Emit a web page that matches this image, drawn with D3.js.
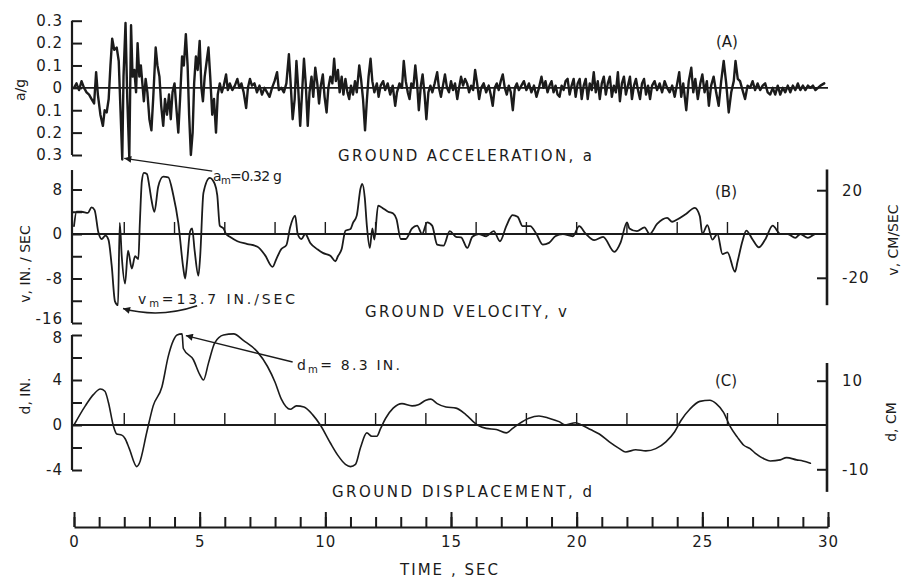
<!DOCTYPE html>
<html><head><meta charset="utf-8">
<script src="https://cdn.jsdelivr.net/npm/d3@7"></script>
<style>body{margin:0;background:#fff}</style>
</head><body><svg id="c" width="901" height="578"></svg>
<script>
// ---------- DATA ----------
const timeTicks = [0, 5, 10, 15, 20, 25, 30];
const accTicks = [-0.3, -0.2, -0.1, 0, 0.1, 0.2, 0.3];
const velTicks = [-16, -12, -8, -4, 0, 4, 8];
const velLabels = [-16, -8, 0, 8];
const velCmTicks = [-20, 20];
const dispTicks = [-4, -2, 0, 2, 4, 6, 8];
const dispLabels = [-4, 0, 4, 8];
const dispCmTicks = [-10, 10];

const accTime = [0.00,0.10,0.20,0.30,0.40,0.50,0.60,0.70,0.80,0.88,0.95,1.05,1.15,1.22,1.30,1.38,1.45,1.52,1.60,1.70,1.78,1.85,1.92,1.97,2.05,2.12,2.20,2.27,2.33,2.40,2.47,2.53,2.60,2.66,2.72,2.78,2.85,2.92,3.00,3.08,3.15,3.25,3.32,3.40,3.47,3.55,3.62,3.70,3.78,3.85,3.92,4.00,4.08,4.15,4.22,4.30,4.37,4.45,4.52,4.58,4.65,4.72,4.78,4.85,4.92,5.00,5.07,5.13,5.20,5.28,5.35,5.42,5.50,5.57,5.65,5.72,5.80,5.88,5.96,6.05,6.12,6.20,6.30,6.40,6.50,6.58,6.66,6.75,6.85,6.92,7.00,7.08,7.18,7.28,7.38,7.48,7.58,7.68,7.78,7.88,7.98,8.08,8.15,8.25,8.35,8.45,8.55,8.62,8.70,8.78,8.85,8.92,9.00,9.07,9.15,9.22,9.30,9.37,9.45,9.52,9.60,9.68,9.75,9.82,9.90,9.97,10.05,10.12,10.20,10.28,10.35,10.42,10.50,10.57,10.65,10.72,10.80,10.88,10.95,11.02,11.10,11.18,11.25,11.35,11.42,11.50,11.58,11.65,11.72,11.80,11.87,11.95,12.05,12.12,12.20,12.30,12.38,12.48,12.58,12.68,12.78,12.85,12.95,13.05,13.12,13.20,13.28,13.35,13.42,13.50,13.58,13.65,13.72,13.80,13.87,13.95,14.02,14.10,14.18,14.26,14.35,14.45,14.52,14.60,14.68,14.76,14.84,14.92,15.00,15.08,15.16,15.25,15.32,15.40,15.48,15.56,15.64,15.72,15.80,15.88,15.96,16.04,16.12,16.20,16.30,16.40,16.50,16.58,16.66,16.74,16.82,16.90,16.98,17.06,17.14,17.22,17.30,17.38,17.46,17.54,17.62,17.70,17.80,17.90,18.00,18.10,18.20,18.30,18.40,18.50,18.60,18.68,18.76,18.84,18.92,19.00,19.08,19.16,19.24,19.32,19.40,19.48,19.56,19.64,19.72,19.80,19.88,19.96,20.04,20.12,20.20,20.28,20.36,20.44,20.52,20.60,20.68,20.76,20.84,20.92,21.00,21.08,21.16,21.24,21.32,21.40,21.48,21.56,21.64,21.72,21.80,21.88,21.96,22.04,22.12,22.20,22.28,22.36,22.44,22.52,22.60,22.68,22.76,22.84,22.92,23.00,23.10,23.20,23.30,23.40,23.50,23.60,23.70,23.80,23.90,24.00,24.08,24.16,24.24,24.36,24.46,24.56,24.64,24.72,24.82,24.92,25.00,25.09,25.18,25.26,25.35,25.45,25.55,25.65,25.75,25.85,25.95,26.05,26.15,26.25,26.32,26.41,26.50,26.60,26.70,26.80,26.90,27.00,27.10,27.20,27.30,27.40,27.50,27.60,27.70,27.80,27.90,28.00,28.10,28.20,28.30,28.40,28.50,28.60,28.70,28.80,28.90,29.00,29.10,29.20,29.30,29.40,29.50,29.60,29.70,29.85,29.95];
const accValue = [0.00,0.02,-0.01,0.03,0.00,-0.02,-0.03,-0.05,-0.07,0.07,-0.03,-0.12,-0.17,-0.10,-0.11,-0.05,0.10,0.22,0.17,0.18,0.12,-0.10,-0.32,0.05,0.29,-0.05,-0.31,0.28,0.05,0.08,-0.02,0.20,0.05,0.10,0.02,-0.06,0.04,-0.02,-0.14,-0.19,-0.05,0.18,0.10,0.05,-0.08,-0.17,-0.05,-0.12,-0.03,-0.14,-0.02,0.02,-0.10,-0.20,-0.05,0.14,0.10,0.24,0.10,-0.12,-0.30,-0.20,0.02,0.14,0.08,0.21,0.00,-0.06,0.05,0.12,0.18,0.05,-0.12,-0.05,-0.20,-0.03,0.02,-0.02,0.01,0.06,-0.01,0.02,-0.01,0.01,0.04,0.00,0.02,-0.02,-0.09,0.00,0.04,0.01,0.02,-0.02,0.01,-0.03,0.00,-0.02,-0.04,0.00,0.03,0.07,-0.01,0.00,-0.02,0.02,0.15,0.02,-0.14,-0.05,0.12,0.00,-0.17,-0.03,0.13,0.02,-0.17,-0.02,0.05,-0.04,0.09,0.02,-0.07,0.01,0.06,-0.04,-0.11,0.00,0.05,0.02,0.13,0.03,0.08,-0.02,0.05,-0.03,0.04,-0.02,-0.05,0.01,-0.03,0.03,-0.02,0.10,0.04,-0.05,-0.19,-0.06,0.05,0.13,0.03,-0.02,0.02,-0.04,0.01,0.03,-0.01,0.02,-0.03,0.01,-0.08,-0.02,0.02,0.00,0.12,0.03,-0.02,-0.05,0.02,0.00,0.10,0.02,-0.10,0.01,0.06,-0.03,-0.14,-0.02,0.01,-0.02,0.02,0.07,0.00,-0.04,0.01,0.06,0.00,-0.02,0.03,-0.01,0.02,-0.05,0.00,0.05,0.01,0.04,0.02,-0.02,0.01,-0.01,0.08,0.02,-0.05,0.00,0.02,-0.02,0.01,-0.03,-0.08,0.00,0.02,-0.01,0.03,0.06,0.00,-0.03,0.01,-0.02,-0.10,0.00,0.02,-0.01,0.01,0.03,-0.01,0.02,-0.02,0.01,-0.04,0.00,0.05,0.00,0.03,-0.02,0.01,0.03,-0.02,0.01,-0.03,-0.04,0.01,-0.01,0.03,0.04,-0.03,0.01,0.04,-0.04,0.02,0.04,-0.05,0.01,0.04,-0.05,0.02,-0.01,0.07,-0.02,0.03,-0.05,0.02,0.05,-0.03,0.02,0.05,-0.04,0.01,-0.02,0.07,-0.06,0.02,0.05,-0.03,0.01,0.05,-0.05,0.01,0.04,-0.01,-0.05,0.02,0.04,-0.03,0.01,-0.05,0.01,0.03,-0.01,0.02,-0.02,0.03,0.00,-0.02,0.01,-0.04,0.02,0.07,-0.04,0.02,-0.10,0.03,0.09,-0.02,0.04,-0.05,0.02,0.06,-0.02,0.03,-0.08,0.01,0.05,-0.02,-0.08,0.03,0.12,0.02,-0.11,-0.02,0.03,0.12,0.04,0.03,-0.01,-0.05,0.01,0.00,0.03,-0.01,0.02,-0.01,0.01,0.02,-0.02,-0.03,0.00,-0.03,0.01,-0.03,0.00,-0.02,0.01,-0.02,0.01,-0.01,0.02,-0.01,0.01,-0.01,0.01,0.00,0.01,-0.01,0.00,0.01,0.02];

const velTime = [0.00,0.10,0.30,0.55,0.70,0.82,0.97,1.10,1.25,1.37,1.50,1.63,1.75,1.82,1.90,2.03,2.15,2.30,2.43,2.56,2.62,2.70,2.78,2.90,3.00,3.08,3.20,3.35,3.55,3.75,3.95,4.15,4.35,4.42,4.50,4.62,4.70,4.80,4.95,5.02,5.15,5.40,5.60,5.70,5.80,5.95,6.05,6.20,6.50,6.90,7.30,7.60,7.90,8.05,8.25,8.45,8.60,8.80,8.90,9.05,9.20,9.40,9.70,9.90,10.20,10.40,10.50,10.65,10.80,11.00,11.10,11.25,11.40,11.47,11.57,11.65,11.77,11.87,11.95,12.10,12.30,12.50,12.70,12.83,13.00,13.20,13.45,13.65,13.85,14.05,14.25,14.45,14.70,14.95,15.20,15.40,15.65,15.85,16.10,16.40,16.70,16.95,17.20,17.45,17.65,17.85,18.15,18.40,18.65,18.90,19.15,19.45,19.85,20.10,20.35,20.70,21.05,21.50,21.75,22.00,22.10,22.40,22.70,22.90,23.20,23.60,23.80,24.00,24.35,24.70,24.90,25.00,25.20,25.40,25.60,25.80,26.00,26.30,26.40,26.60,26.75,27.00,27.25,27.50,27.80,28.10,28.40,28.70,28.90,29.20,29.50,29.80];
const velValue = [1.4,4.0,4.0,3.8,4.8,4.3,0.3,-0.9,-0.3,-1.0,-5.7,-12.1,-12.8,2.0,-4.0,-8.9,-3.0,-6.2,-4.0,-4.5,2.0,9.5,11.0,10.8,8.5,6.2,4.0,8.5,10.3,10.2,7.0,2.0,-6.2,-8.0,-5.0,0.5,1.0,-3.0,-7.5,-4.0,7.4,10.1,9.0,7.0,1.5,1.0,0.0,-0.5,-1.3,-1.8,-2.3,-3.8,-5.9,-4.5,-2.7,-2.0,1.2,3.3,0.0,-0.9,0.0,-1.6,-2.8,-3.4,-3.9,-4.9,-4.0,-2.7,0.6,0.9,2.0,3.3,8.2,9.0,6.5,1.6,-2.5,1.0,-1.0,5.1,4.6,4.0,3.7,2.7,-0.9,-0.9,1.0,1.5,0.0,2.1,1.5,-1.9,-2.1,0.5,-0.5,-0.6,-2.5,-0.5,0.0,-0.4,0.5,-1.3,1.4,3.4,3.1,1.4,1.4,0.0,-1.9,-1.6,-0.4,0.0,-0.4,1.4,0.1,-1.1,-0.5,-3.2,-1.5,2.1,1.0,0.5,1.2,0.0,1.8,2.9,2.2,2.6,3.6,4.7,3.2,0.0,1.6,-1.0,0.0,-3.6,-3.3,-6.8,-5.0,-1.2,0.6,-1.0,-2.4,-1.0,1.5,0.0,0.0,-0.7,0.0,-0.7,0.0,0.0];

const dispTime = [0.00,0.45,0.77,1.05,1.23,1.37,1.57,1.70,1.90,2.03,2.20,2.50,2.60,2.90,3.15,3.50,3.75,3.95,4.10,4.30,4.35,4.75,5.00,5.15,5.35,5.60,5.95,6.35,6.75,7.30,7.70,8.00,8.25,8.60,8.85,9.15,9.50,9.80,10.20,10.50,10.80,11.00,11.20,11.40,11.65,11.85,12.05,12.20,12.40,12.70,13.05,13.45,13.70,14.00,14.20,14.45,14.80,15.20,15.60,16.05,16.40,16.80,17.20,17.45,17.70,18.10,18.50,18.90,19.30,19.55,19.95,20.20,20.55,20.90,21.30,21.70,21.95,22.35,22.75,23.15,23.55,23.90,24.15,24.50,24.90,25.30,25.55,25.85,26.10,26.40,26.65,26.90,27.10,27.45,27.70,28.10,28.35,28.75,29.00,29.30];
const dispValue = [0.0,1.7,2.7,3.2,3.0,2.0,-0.1,-0.8,-0.9,-1.2,-2.1,-3.7,-3.4,-0.6,1.7,3.4,6.1,7.5,8.0,8.1,6.8,5.8,4.5,4.0,5.5,7.3,8.0,8.1,7.5,6.5,5.2,3.8,2.3,1.4,1.7,1.6,0.9,0.0,-1.6,-2.7,-3.5,-3.7,-3.5,-2.0,-0.7,-1.0,-1.0,-0.3,0.6,1.5,1.9,1.7,1.8,2.2,2.3,1.9,1.6,1.5,0.9,0.0,-0.3,-0.4,-0.7,-0.3,0.1,0.6,0.8,0.6,0.3,0.0,0.2,0.0,-0.4,-0.8,-1.5,-2.1,-2.4,-2.2,-2.3,-2.1,-1.5,-0.6,0.4,1.4,2.1,2.2,1.9,1.1,-0.1,-1.1,-1.8,-2.1,-2.5,-3.0,-3.2,-3.1,-2.9,-3.1,-3.2,-3.4];

// ---------- CHART ----------
const ink = "#1b1b1b";
const FONT = "'DejaVu Sans', Verdana, sans-serif";
const svg = d3.select("#c");
svg.append("rect").attr("width", 901).attr("height", 578).attr("fill", "#fff");

const x = d3.scaleLinear().domain([0, 30]).range([74, 828]);
const yA = d3.scaleLinear().domain([-0.3, 0.3]).range([155, 20.7]);
const yB = d3.scaleLinear().domain([-16, 8]).range([323, 189.5]);
const yBcm = d3.scaleLinear().domain([-16 * 2.54, 8 * 2.54]).range([323, 189.5]);
const yC = d3.scaleLinear().domain([-4, 8]).range([470, 335]);
const yCcm = d3.scaleLinear().domain([-4 * 2.54, 8 * 2.54]).range([470, 335]);
const leftX = x(0) - 2, rightX = x(30) - 1;

svg.append("defs").append("marker")
  .attr("id", "arr").attr("viewBox", "0 0 10 10").attr("refX", 10).attr("refY", 5)
  .attr("markerWidth", 11).attr("markerHeight", 7).attr("markerUnits", "userSpaceOnUse")
  .attr("orient", "auto")
  .append("path").attr("d", "M0,0L10,5L0,10z").attr("fill", ink);

function styleAxis(g, size) {
  g.attr("font-family", FONT).attr("font-size", size);
  g.selectAll(".tick line").attr("stroke", ink).attr("stroke-width", 2);
  g.selectAll(".tick text").attr("fill", ink).attr("letter-spacing", 1);
}
function vline(xp, y1, y2, w) {
  svg.append("line").attr("x1", xp).attr("x2", xp).attr("y1", y1).attr("y2", y2)
    .attr("stroke", ink).attr("stroke-width", w || 2.2);
}
function leftAxis(scale, ticks, labels, fmt, top, bottom) {
  const g = svg.append("g").attr("transform", `translate(${leftX},0)`)
    .call(d3.axisLeft(scale).tickValues(ticks).tickSize(-10).tickSizeOuter(0).tickPadding(9)
      .tickFormat(d => labels.includes(d) ? fmt(d) : ""));
  g.select(".domain").remove();
  styleAxis(g, 15);
  vline(leftX, scale(top), scale(bottom));
  return g;
}
function rightAxis(scale, ticks, top, bottom) {
  const g = svg.append("g").attr("transform", `translate(${rightX},0)`)
    .call(d3.axisRight(scale).tickValues(ticks).tickSize(-10).tickSizeOuter(0).tickPadding(15)
      .tickFormat(d => d));
  g.select(".domain").remove();
  styleAxis(g, 15);
  vline(rightX, scale(top), scale(bottom), 2.6);
}
function zeroLine(scale, ticks) {
  svg.append("line").attr("x1", leftX).attr("x2", x(30)).attr("y1", scale(0)).attr("y2", scale(0))
    .attr("stroke", ink).attr("stroke-width", 1.8);
  if (ticks) svg.append("g").selectAll("line").data(ticks).join("line")
    .attr("x1", d => x(d)).attr("x2", d => x(d)).attr("y1", scale(0)).attr("y2", scale(0) - 12)
    .attr("stroke", ink).attr("stroke-width", 1.4);
}
function trace(ts, vs, scale, w, curve) {
  const pts = ts.map((t, i) => [t, vs[i]]);
  svg.append("path").datum(pts)
    .attr("d", d3.line().x(d => x(d[0])).y(d => scale(d[1])).curve(curve))
    .attr("fill", "none").attr("stroke", ink).attr("stroke-width", w)
    .attr("stroke-linejoin", "round").attr("stroke-linecap", "round");
}
function label(txt, xp, yp, size, opts) {
  const t = svg.append("text").attr("x", xp).attr("y", yp).attr("font-family", FONT)
    .attr("font-size", size).attr("fill", ink).text(txt);
  if (opts && opts.len) t.attr("textLength", opts.len).attr("lengthAdjust", "spacing");
  if (opts && opts.anchor) t.attr("text-anchor", opts.anchor);
  if (opts && opts.rot) t.attr("transform", `rotate(-90,${xp},${yp})`).attr("text-anchor", "middle");
  return t;
}
function subLabel(main, sub, rest, xp, yp, size, len) {
  const t = svg.append("text").attr("x", xp).attr("y", yp).attr("font-family", FONT)
    .attr("font-size", size).attr("fill", ink);
  t.append("tspan").text(main);
  t.append("tspan").attr("font-size", size * 0.72).attr("dy", 3).text(sub);
  t.append("tspan").attr("dy", -3).text(rest);
  if (len) t.attr("textLength", len).attr("lengthAdjust", "spacing");
}
const twoSec = d3.range(2, 30, 2);

// Panel A
zeroLine(yA, null);
trace(accTime, accValue, yA, 2.4, d3.curveLinear);
leftAxis(yA, accTicks, accTicks, d => d === 0 ? "0" : Math.abs(d).toFixed(1), 0.3, -0.3);
label("a/g", 25, 90, 14, {rot: true});
label("(A)", 716, 47, 15);
label("GROUND ACCELERATION, a", 338, 161, 15, {len: 254});
subLabel("a", "m", "=0.32 g", 213, 181, 14, 69);
svg.append("path").attr("d", d3.line()([[x(5.5), yA(-0.372)], [x(2.0), yA(-0.315)]]))
  .attr("stroke", ink).attr("stroke-width", 1.4).attr("fill", "none").attr("marker-end", "url(#arr)");

// Panel B
zeroLine(yB, twoSec);
trace(velTime, velValue, yB, 1.8, d3.curveMonotoneX);
const gB = leftAxis(yB, velTicks, velLabels, d => d, 11.5, -16);
gB.selectAll(".tick text").filter(d => d === -16).attr("dy", "0.05em");
rightAxis(yBcm, velCmTicks, 11.6 * 2.54, -12.8 * 2.54);
label("v, IN. / SEC", 30, 264, 14, {rot: true});
label("v, CM/SEC", 898, 240, 14, {rot: true});
label("(B)", 715, 197, 15);
label("GROUND VELOCITY, v", 365, 317, 15, {len: 202});
subLabel("v", "m", "=13.7 IN./SEC", 138, 304, 14, 157);
svg.append("path")
  .attr("d", `M${x(4.9)},${yB(-12.9)} Q${x(3.4)},${yB(-15.2)} ${x(1.95)},${yB(-13.4)}`)
  .attr("stroke", ink).attr("stroke-width", 1.4).attr("fill", "none").attr("marker-end", "url(#arr)");

// Panel C
zeroLine(yC, twoSec);
trace(dispTime, dispValue, yC, 1.6, d3.curveMonotoneX);
const gC = leftAxis(yC, dispTicks, dispLabels, d => d, 8, -4);
gC.selectAll(".tick text").filter(d => d === 8).attr("dy", "0.5em");
rightAxis(yCcm, dispCmTicks, 14, -15.1);
label("d, IN.", 30, 396, 14, {rot: true});
label("d, CM", 896, 422, 14, {rot: true});
label("(C)", 715, 386, 15);
label("GROUND DISPLACEMENT, d", 332, 497, 15, {len: 260});
subLabel("d", "m", "= 8.3 IN.", 297, 370, 14, 103);
svg.append("path").attr("d", d3.line()([[x(8.7), yC(5.6)], [x(4.45), yC(7.95)]]))
  .attr("stroke", ink).attr("stroke-width", 1.4).attr("fill", "none").attr("marker-end", "url(#arr)");

// Time axis
const tAxisY = 527;
const gm = svg.append("g").attr("transform", `translate(0,${tAxisY})`)
  .call(d3.axisBottom(x).tickValues(d3.range(0, 31, 1)).tickSize(-10).tickSizeOuter(0).tickFormat(""));
gm.select(".domain").remove();
styleAxis(gm, 15);
const gM = svg.append("g").attr("transform", `translate(0,${tAxisY})`)
  .call(d3.axisBottom(x).tickValues(timeTicks).tickSize(-15).tickSizeOuter(0).tickPadding(9));
gM.select(".domain").attr("stroke", ink).attr("stroke-width", 2.2);
styleAxis(gM, 15);
label("TIME , SEC", 400, 575, 15, {len: 98});
</script></body></html>
